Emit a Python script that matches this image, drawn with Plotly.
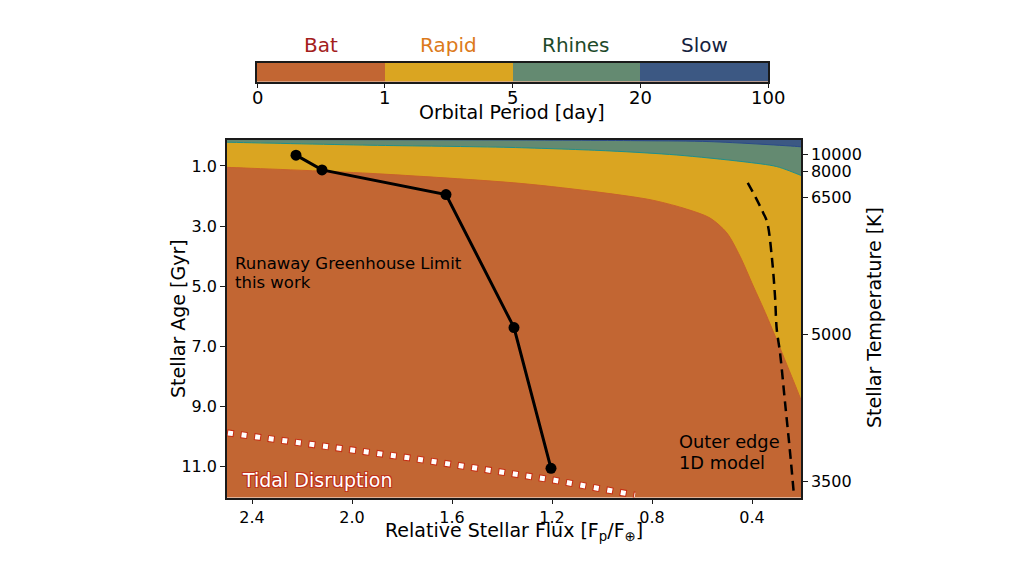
import plotly.graph_objects as go

W, H = 1024, 575
FONT = "DejaVu Sans"

# ---------------- data ----------------
# regime boundaries (relative flux, stellar age [Gyr])
bat_rapid_flux = [2.55, 2.499, 1.928, 1.328, 1.008, 0.808, 0.675, 0.568, 0.501, 0.448, 0.395, 0.341, 0.208, 0.19]
bat_rapid_age = [1.03, 1.046, 1.246, 1.578, 1.877, 2.12, 2.40, 2.73, 3.22, 4.0, 4.99, 5.99, 8.69, 9.1]

rapid_rhines_flux = [2.55, 2.5, 1.928, 1.368, 0.968, 0.701, 0.436, 0.301, 0.208, 0.19]
rapid_rhines_age = [0.20, 0.21, 0.31, 0.383, 0.50, 0.635, 0.857, 1.02, 1.30, 1.36]

rhines_slow_flux = [2.55, 2.5, 1.368, 0.836, 0.568, 0.208, 0.19]
rhines_slow_age = [0.12, 0.12, 0.137, 0.16, 0.19, 0.36, 0.38]

# runaway greenhouse limit (this work)
rg_flux = [2.224, 2.12, 1.624, 1.352, 1.204]
rg_age = [0.64, 1.13, 1.95, 6.37, 11.05]

# outer edge 1D model
oe_flux = [0.417, 0.385, 0.355, 0.339, 0.321, 0.308, 0.301, 0.288, 0.268, 0.248, 0.232]
oe_age = [1.56, 2.05, 2.56, 2.88, 4.0, 5.33, 6.43, 7.2, 8.85, 10.5, 11.96]

# tidal disruption
td_flux = [2.5, 2.128, 1.781, 1.195, 0.868]
td_age = [9.87, 10.29, 10.69, 11.44, 11.94]

# axes
flux_range = [2.5, 0.204]
age_range = [12.02, 0.12]
flux_ticks = [2.4, 2.0, 1.6, 1.2, 0.8, 0.4]
age_ticks = [1.0, 3.0, 5.0, 7.0, 9.0, 11.0]
temp_ticks = [10000, 8000, 6500, 5000, 3500]
temp_tick_ages = [0.625, 1.18, 2.04, 6.60, 11.49]

# colour bar (orbital period regimes)
regimes = ["Bat", "Rapid", "Rhines", "Slow"]
period_ticks = ["0", "1", "5", "20", "100"]
regime_colors = ["#C26633", "#DAA521", "#648A71", "#3C5883"]
label_colors = ["#A3201C", "#DC7A1A", "#1E4A2A", "#15223E"]

# ---------------- figure ----------------
fig = go.Figure()

def band(flux, age, color, edge):
    fig.add_trace(go.Scatter(x=flux, y=age, mode="lines", fill="tozeroy",
                             fillcolor=color, line=dict(color=edge, width=1, shape="spline", smoothing=0.8),
                             hoverinfo="skip", showlegend=False))

band(bat_rapid_flux, bat_rapid_age, regime_colors[1], "#C8622C")
band(rapid_rhines_flux, rapid_rhines_age, regime_colors[2], "#1E8F8C")
band(rhines_slow_flux, rhines_slow_age, regime_colors[3], "#2A4A8A")

# tidal disruption: red outline under white squares
fig.add_trace(go.Scatter(x=td_flux, y=td_age, mode="lines",
                         line=dict(color="#C62E14", width=7, dash="7px,6.7px"),
                         hoverinfo="skip", showlegend=False))
fig.add_trace(go.Scatter(x=td_flux, y=td_age, mode="lines",
                         line=dict(color="white", width=5, dash="0px,1px,5px,7.7px"),
                         hoverinfo="skip", showlegend=False))

# outer edge
fig.add_trace(go.Scatter(x=oe_flux, y=oe_age, mode="lines",
                         line=dict(color="black", width=2.5, dash="10px,6px", shape="spline"),
                         hoverinfo="skip", showlegend=False))

# runaway greenhouse
fig.add_trace(go.Scatter(x=rg_flux, y=rg_age, mode="lines+markers",
                         line=dict(color="black", width=3),
                         marker=dict(color="black", size=11),
                         hoverinfo="skip", showlegend=False))

# invisible trace to attach right axis
fig.add_trace(go.Scatter(x=[flux_range[0]], y=[age_range[0]], yaxis="y2", mode="markers",
                         marker=dict(opacity=0), hoverinfo="skip", showlegend=False))

# colour bar as heatmap
fig.add_trace(go.Heatmap(z=[[0, 1, 2, 3]], x=[0.5, 1.5, 2.5, 3.5], y=[0],
                         xaxis="x3", yaxis="y3", showscale=False, hoverinfo="skip",
                         colorscale=[[0, regime_colors[0]], [0.25, regime_colors[0]],
                                     [0.25, regime_colors[1]], [0.5, regime_colors[1]],
                                     [0.5, regime_colors[2]], [0.75, regime_colors[2]],
                                     [0.75, regime_colors[3]], [1, regime_colors[3]]],
                         zmin=-0.5, zmax=3.5))

px_x = lambda p: p / W
px_y = lambda p: 1 - p / H

def axis_common(size=16):
    return dict(showline=True, linecolor="#1a1a1a", linewidth=1.5, ticks="outside",
                ticklen=5, tickwidth=1, tickcolor="#1a1a1a", showgrid=False, zeroline=False,
                automargin=False, tickfont=dict(family=FONT, size=size, color="black"))

fig.update_layout(
    width=W, height=H, margin=dict(l=0, r=0, t=0, b=0, autoexpand=False),
    paper_bgcolor="white", plot_bgcolor=regime_colors[0], showlegend=False,
    xaxis=dict(domain=[px_x(227), px_x(801)], range=flux_range, tickvals=flux_ticks,
               ticktext=[f"{v:.1f}" for v in flux_ticks], mirror=True, anchor="y", **axis_common()),
    yaxis=dict(domain=[px_y(497.5), px_y(139.5)], range=age_range, tickvals=age_ticks,
               ticktext=[f"{v:.1f}" for v in age_ticks], mirror=True, anchor="x", **axis_common()),
    yaxis2=dict(overlaying="y", side="right", anchor="x", range=age_range, tickvals=temp_tick_ages,
                ticktext=[str(t) for t in temp_ticks], **axis_common()),
    xaxis3=dict(domain=[px_x(257), px_x(768)], range=[0, 4], anchor="y3",
                tickvals=list(range(len(period_ticks))), showticklabels=False, mirror=True,
                **axis_common(18)),
    yaxis3=dict(domain=[px_y(81.5), px_y(62.5)], range=[-0.5, 0.5], anchor="x3",
                showticklabels=False, ticks="", showline=True, mirror=True,
                linecolor="#1a1a1a", linewidth=1.5, showgrid=False, zeroline=False),
)

ann = []
# regime labels
for i, (name, c) in enumerate(zip(regimes, label_colors)):
    ann.append(dict(x=i + 0.5, y=0.5, xref="x3", yref="y3", text=name, showarrow=False,
                    yshift=4, yanchor="bottom", font=dict(family=FONT, size=20, color=c)))
# period tick labels
for i, t in enumerate(period_ticks):
    ann.append(dict(x=i, y=px_y(98), xref="x3", yref="paper", text=t, showarrow=False,
                    yanchor="middle", font=dict(family=FONT, size=18, color="black")))

def txt(x, y, text, size, color="black", anchor="center", angle=0, **kw):
    ann.append(dict(x=px_x(x), y=px_y(y), xref="paper", yref="paper", text=text,
                    xanchor=anchor, yanchor="middle", textangle=angle, showarrow=False,
                    font=dict(family=FONT, size=size, color=color, **kw)))

txt(512, 112, "Orbital Period [day]", 19)
txt(514, 531.5, "Relative Stellar Flux [F<sub>p</sub>/F<sub>⊕</sub>]", 19)
txt(178, 319, "Stellar Age [Gyr]", 19, angle=-90)
txt(874, 318, "Stellar Temperature [K]", 19, angle=-90)
txt(232.5, 263.5, "Runaway Greenhouse Limit", 16.5, anchor="left")
txt(232.5, 282, "this work", 16.5, anchor="left")
txt(676.5, 441.5, "Outer edge", 17.8, anchor="left")
txt(676.5, 462, "1D model", 17.8, anchor="left")
txt(239.5, 480, "Tidal Disruption", 19, color="white", anchor="left",
    shadow="1px 1px 0 #C0301A, -1px -1px 0 #C0301A, 1px -1px 0 #C0301A, -1px 1px 0 #C0301A")
fig.update_layout(annotations=ann)

fig.write_html("out.html", config={"displayModeBar": False},
               post_script="document.body.style.margin='0';document.body.style.overflow='hidden';")
